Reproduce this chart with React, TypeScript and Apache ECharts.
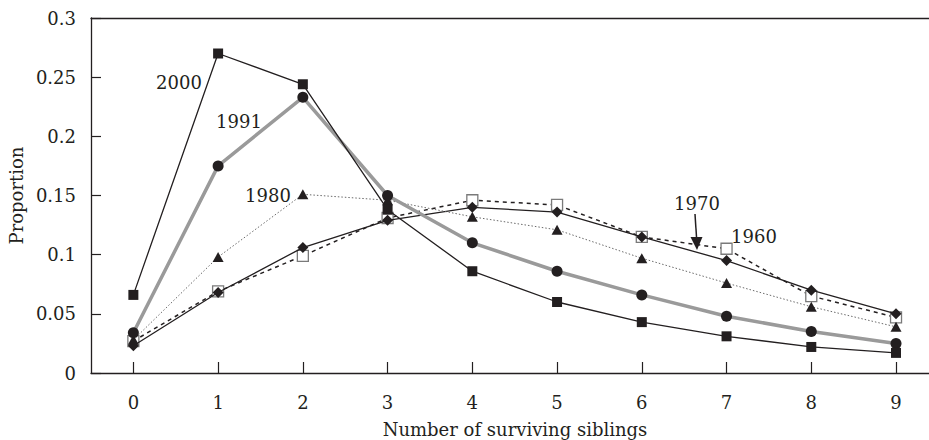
import React, { useEffect, useRef } from "react";
import * as echarts from "echarts";

const siblings = [0, 1, 2, 3, 4, 5, 6, 7, 8, 9];
const p2000 = [0.066, 0.270, 0.244, 0.138, 0.086, 0.060, 0.043, 0.031, 0.022, 0.017];
const p1991 = [0.034, 0.175, 0.233, 0.150, 0.110, 0.086, 0.066, 0.048, 0.035, 0.025];
const p1980 = [0.028, 0.098, 0.151, 0.146, 0.132, 0.121, 0.097, 0.076, 0.056, 0.039];
const p1970 = [0.023, 0.068, 0.106, 0.129, 0.140, 0.136, 0.115, 0.095, 0.070, 0.050];
const p1960 = [0.027, 0.069, 0.099, 0.131, 0.146, 0.142, 0.115, 0.105, 0.065, 0.047];
const yTicks = [0, 0.05, 0.1, 0.15, 0.2, 0.25, 0.3];

const FONT = "DejaVu Serif";
const INK = "#231f20";
const X_MIN = -0.5;
const X_MAX = 9.755;

const pairs = (ys: number[]) => siblings.map((x, i) => [x, ys[i]]);

export default function App() {
  const ref = useRef<HTMLDivElement>(null);
  useEffect(() => {
    document.body.style.margin = "0";
    document.body.style.overflow = "hidden";
    if (!ref.current) return;
    const chart = echarts.init(ref.current, undefined, { renderer: "svg" });
    const label = (text: string, x: number, y: number) => ({
      type: "text",
      x,
      y,
      style: { text, fontFamily: FONT, fontSize: 18, fill: INK, align: "center", verticalAlign: "middle" },
      z: 100,
    });
    chart.setOption({
      animation: false,
      backgroundColor: "#fff",
      grid: { left: 91, top: 18, right: 40, bottom: 67, outerBoundsMode: "none", containLabel: false },
      xAxis: [
        {
          type: "value",
          min: X_MIN,
          max: X_MAX,
          axisLine: { show: true, onZero: false, lineStyle: { color: INK, width: 1.3 } },
          axisTick: { show: true, inside: true, length: 11, customValues: siblings, lineStyle: { color: INK, width: 1.2 } },
          axisLabel: { customValues: siblings, margin: 20, fontFamily: FONT, fontSize: 18, color: INK },
          splitLine: { show: false },
          name: "Number of surviving siblings",
          nameLocation: "start",
          nameGap: 0,
          nameTextStyle: { color: "transparent", fontSize: 1 },
        },
        {
          type: "value",
          position: "top",
          min: X_MIN,
          max: X_MAX,
          axisLine: { show: true, onZero: false, lineStyle: { color: INK, width: 1.3 } },
          axisTick: { show: false },
          axisLabel: { show: false },
          splitLine: { show: false },
        },
      ],
      yAxis: {
        type: "value",
        min: 0,
        max: 0.3,
        interval: 0.05,
        axisLine: { show: true, onZero: false, lineStyle: { color: INK, width: 1.3 } },
        axisTick: { show: true, inside: true, length: 10, lineStyle: { color: INK, width: 1.2 } },
        axisLabel: {
          margin: 15,
          fontFamily: FONT,
          fontSize: 18,
          color: INK,
          formatter: (v: number) => {
            const t = yTicks.find((k) => Math.abs(k - v) < 1e-9);
            return t === undefined ? "" : String(t);
          },
        },
        splitLine: { show: false },
        name: "Proportion",
        nameLocation: "middle",
        nameGap: 64,
        nameTextStyle: { fontFamily: FONT, fontSize: 18, color: INK },
      },
      series: [
        {
          name: "1960",
          type: "line",
          data: pairs(p1960),
          symbol: "rect",
          symbolSize: 11,
          itemStyle: { color: "#ffffff", borderColor: "#7a7a7a", borderWidth: 1.3 },
          lineStyle: { color: INK, width: 1.5, type: [4, 4] },
          z: 2,
        },
        {
          name: "1970",
          type: "line",
          data: pairs(p1970),
          symbol: "diamond",
          symbolSize: [11, 11],
          itemStyle: { color: INK },
          lineStyle: { color: INK, width: 1.3 },
          z: 3,
        },
        {
          name: "1980",
          type: "line",
          data: pairs(p1980),
          symbol: "triangle",
          symbolSize: [11, 10],
          itemStyle: { color: INK },
          lineStyle: { color: "#6a6a6a", width: 1, type: [1.5, 2] },
          z: 4,
        },
        {
          name: "1991",
          type: "line",
          data: pairs(p1991),
          symbol: "circle",
          symbolSize: 11,
          itemStyle: { color: INK },
          lineStyle: { color: "#9a9a9a", width: 3.5 },
          z: 5,
        },
        {
          name: "2000",
          type: "line",
          data: pairs(p2000),
          symbol: "rect",
          symbolSize: 10,
          itemStyle: { color: INK },
          lineStyle: { color: INK, width: 1.3 },
          z: 6,
        },
      ],
      graphic: [
        {
          type: "text",
          x: 515,
          y: 420,
          style: {
            text: "Number of surviving siblings",
            fontFamily: FONT,
            fontSize: 18,
            fill: INK,
            align: "center",
            verticalAlign: "top",
          },
        },
        label("2000", 179, 82),
        label("1991", 239, 121),
        label("1980", 268, 195),
        label("1970", 697, 203),
        label("1960", 754, 236),
        {
          type: "line",
          shape: { x1: 695, y1: 214, x2: 696.7, y2: 240 },
          style: { stroke: INK, lineWidth: 1.5 },
          z: 100,
        },
        {
          type: "polygon",
          shape: { points: [[690.5, 237], [702.5, 237], [697, 250]] },
          style: { fill: INK },
          z: 100,
        },
      ],
    });
    return () => chart.dispose();
  }, []);
  return <div ref={ref} style={{ width: 1000, height: 440 }} />;
}
